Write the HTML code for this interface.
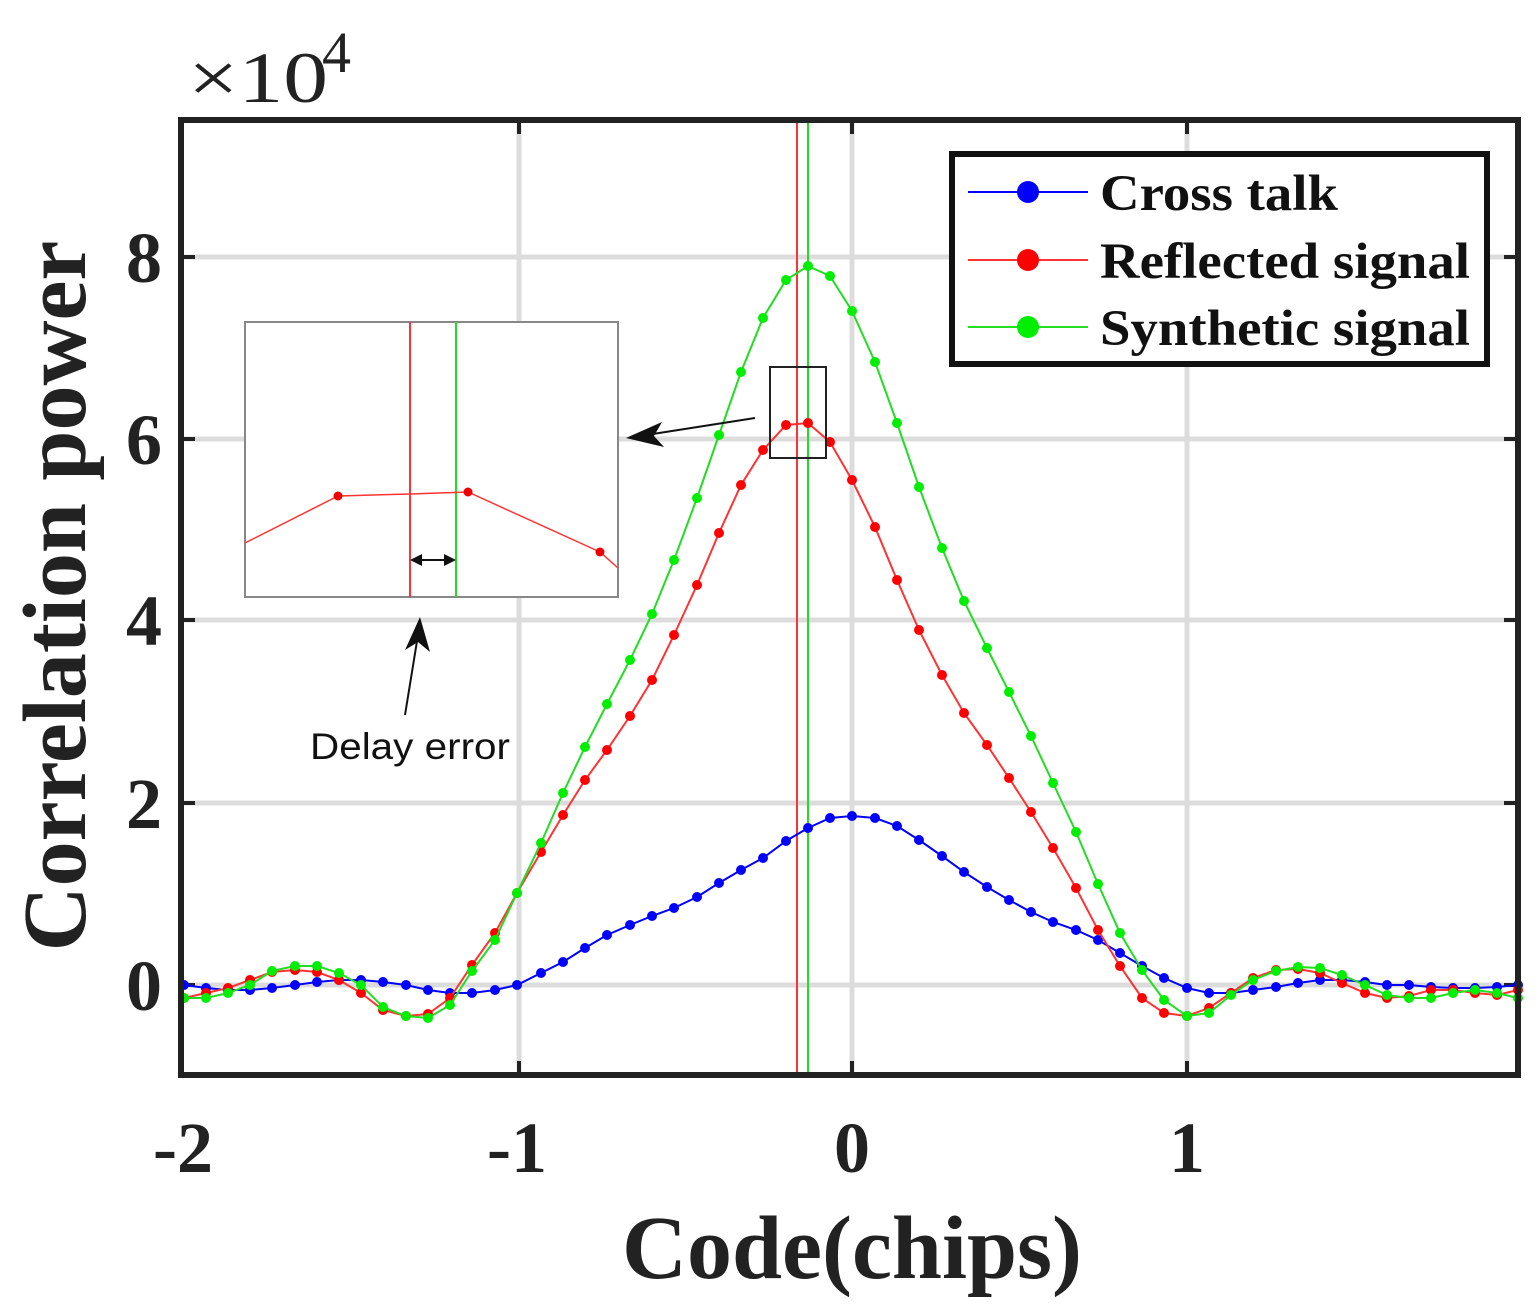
<!DOCTYPE html>
<html><head><meta charset="utf-8"><style>body{margin:0;background:#fff}svg{display:block}</style></head><body>
<svg width="1540" height="1307" xmlns="http://www.w3.org/2000/svg" font-family="Liberation Serif, serif">
<defs>
<marker id="mb" markerUnits="userSpaceOnUse" markerWidth="12" markerHeight="12" refX="6" refY="6"><circle cx="6" cy="6" r="5" fill="#00f"/></marker>
<marker id="mr" markerUnits="userSpaceOnUse" markerWidth="12" markerHeight="12" refX="6" refY="6"><circle cx="6" cy="6" r="5" fill="#f00"/></marker>
<marker id="mg" markerUnits="userSpaceOnUse" markerWidth="12" markerHeight="12" refX="6" refY="6"><circle cx="6" cy="6" r="5" fill="#0e0"/></marker>
</defs>
<rect width="1540" height="1307" fill="#fff"/>
<g stroke="#dcdcdc" stroke-width="5">
<line x1="519" y1="120" x2="519" y2="1075"/><line x1="852" y1="120" x2="852" y2="1075"/><line x1="1187" y1="120" x2="1187" y2="1075"/>
<line x1="181" y1="257" x2="1518" y2="257"/><line x1="181" y1="439" x2="1518" y2="439"/><line x1="181" y1="620" x2="1518" y2="620"/><line x1="181" y1="803" x2="1518" y2="803"/><line x1="181" y1="985" x2="1518" y2="985"/>
</g>
<g stroke="#222" stroke-width="4">
<line x1="519" y1="120" x2="519" y2="134"/><line x1="852" y1="120" x2="852" y2="134"/><line x1="1187" y1="120" x2="1187" y2="134"/>
<line x1="519" y1="1075" x2="519" y2="1061"/><line x1="852" y1="1075" x2="852" y2="1061"/><line x1="1187" y1="1075" x2="1187" y2="1061"/>
<line x1="181" y1="257" x2="195" y2="257"/><line x1="181" y1="439" x2="195" y2="439"/><line x1="181" y1="620" x2="195" y2="620"/><line x1="181" y1="803" x2="195" y2="803"/><line x1="181" y1="985" x2="195" y2="985"/>
<line x1="1518" y1="257" x2="1504" y2="257"/><line x1="1518" y1="439" x2="1504" y2="439"/><line x1="1518" y1="620" x2="1504" y2="620"/><line x1="1518" y1="803" x2="1504" y2="803"/><line x1="1518" y1="985" x2="1504" y2="985"/>
</g>
<line x1="797" y1="120" x2="797" y2="1075" stroke="#f33" stroke-width="2"/>
<line x1="808" y1="120" x2="808" y2="1075" stroke="#2d2" stroke-width="2"/>
<polyline fill="none" stroke="#00f" stroke-width="2" marker-start="url(#mb)" marker-mid="url(#mb)" marker-end="url(#mb)" points="184,985 206,988 228,990 250,990 272,988 295,985 317,982 339,980 361,980 383,982 406,985 428,990 450,993 472,993 495,990 517,985 541,973 563,962 585,948 607,935 630,925 652,916 674,908 697,897 719,883 741,870 763,858 786,841 808,828 830,818 852,816 875,818 897,826 919,840 942,856 964,872 987,887 1009,900 1031,912 1053,922 1076,930 1098,940 1120,953 1142,966 1164,978 1187,988 1209,993 1231,993 1253,990 1276,987 1298,983 1320,980 1342,980 1365,982 1387,985 1409,985 1431,987 1453,988 1475,988 1497,987 1518,985"/>
<polyline fill="none" stroke="#f33" stroke-width="2" marker-start="url(#mr)" marker-mid="url(#mr)" marker-end="url(#mr)" points="184,998 206,993 228,988 250,980 272,972 295,970 317,972 339,980 361,993 383,1010 406,1016 428,1014 450,998 472,965 495,933 517,893 541,852 563,815 585,780 607,750 630,716 652,680 674,635 697,585 719,533 741,485 763,450 786,425 808,423 830,442 852,480 875,527 897,580 919,630 942,675 964,713 987,745 1009,778 1031,812 1053,848 1076,888 1098,930 1120,966 1142,998 1164,1013 1187,1016 1209,1008 1231,993 1253,978 1276,970 1298,969 1320,973 1342,983 1365,993 1387,998 1409,996 1431,990 1453,990 1475,993 1497,995 1518,990"/>
<polyline fill="none" stroke="#2d2" stroke-width="2" marker-start="url(#mg)" marker-mid="url(#mg)" marker-end="url(#mg)" points="184,998 206,998 228,993 250,985 272,971 295,966 317,966 339,973 361,985 383,1007 406,1016 428,1018 450,1005 472,971 495,940 517,893 541,843 563,793 585,747 607,704 630,660 652,614 674,560 697,498 719,435 741,372 763,318 786,280 808,266 830,276 852,311 875,362 897,423 919,487 942,548 964,601 987,648 1009,692 1031,736 1053,783 1076,832 1098,884 1120,933 1142,970 1164,1000 1187,1016 1209,1013 1231,995 1253,980 1276,971 1298,967 1320,968 1342,975 1365,985 1387,995 1409,998 1431,998 1453,993 1475,990 1497,993 1518,998"/>
<rect x="181" y="120" width="1337" height="955" fill="none" stroke="#222" stroke-width="6"/>
<rect x="245" y="322" width="373" height="275" fill="#fff" stroke="#888" stroke-width="2"/>
<line x1="410" y1="322" x2="410" y2="597" stroke="#f33" stroke-width="2"/>
<line x1="456" y1="322" x2="456" y2="597" stroke="#2d2" stroke-width="2"/>
<polyline points="245,543 338,496 410,494 468,492 600,552 618,568" fill="none" stroke="#f33" stroke-width="1.5"/>
<g fill="#e00"><circle cx="338" cy="496" r="4.5"/><circle cx="468" cy="492" r="4.5"/><circle cx="600" cy="552" r="4.5"/></g>
<line x1="412" y1="560" x2="454" y2="560" stroke="#111" stroke-width="2"/>
<polygon points="410,560 422,554 422,566" fill="#111"/><polygon points="456,560 444,554 444,566" fill="#111"/>
<rect x="770" y="367" width="56" height="91" fill="none" stroke="#222" stroke-width="2"/>
<line x1="755" y1="418" x2="640" y2="436" stroke="#111" stroke-width="2"/>
<polygon points="626,438 662,422 654,436 664,447" fill="#111"/>
<line x1="405" y1="715" x2="418" y2="635" stroke="#111" stroke-width="2"/>
<polygon points="420,617 430,652 418,642 405,650" fill="#111"/>
<text x="310" y="759" font-family="Liberation Sans, sans-serif" font-size="37" fill="#111" textLength="200" lengthAdjust="spacingAndGlyphs">Delay error</text>
<rect x="952" y="154" width="535" height="210" fill="#fff" stroke="#111" stroke-width="6"/>
<line x1="968" y1="192" x2="1088" y2="192" stroke="#00f" stroke-width="2"/><circle cx="1028" cy="192" r="11" fill="#00f"/>
<line x1="968" y1="260" x2="1088" y2="260" stroke="#f33" stroke-width="2"/><circle cx="1028" cy="260" r="11" fill="#f00"/>
<line x1="968" y1="327" x2="1088" y2="327" stroke="#2d2" stroke-width="2"/><circle cx="1028" cy="327" r="11" fill="#0e0"/>
<g font-size="51" font-weight="bold" fill="#111">
<text x="1100" y="210" textLength="238" lengthAdjust="spacingAndGlyphs">Cross talk</text>
<text x="1100" y="278" textLength="370" lengthAdjust="spacingAndGlyphs">Reflected signal</text>
<text x="1100" y="345" textLength="370" lengthAdjust="spacingAndGlyphs">Synthetic signal</text>
</g>
<g font-size="72" font-weight="bold" fill="#222" text-anchor="middle">
<text x="183" y="1172">-2</text><text x="517" y="1172">-1</text><text x="852" y="1172">0</text><text x="1187" y="1172">1</text>
</g>
<g font-size="72" font-weight="bold" fill="#222" text-anchor="end">
<text x="162" y="282">8</text><text x="162" y="464">6</text><text x="162" y="645">4</text><text x="162" y="828">2</text><text x="162" y="1010">0</text>
</g>
<text x="188" y="102" font-size="72" fill="#222" textLength="140" lengthAdjust="spacingAndGlyphs">×10</text>
<text x="322" y="72" font-size="58" fill="#222">4</text>
<text x="852" y="1278" font-size="90" font-weight="bold" fill="#222" text-anchor="middle">Code(chips)</text>
<text transform="translate(85,596) rotate(-90)" font-size="90" font-weight="bold" fill="#222" text-anchor="middle">Correlation power</text>
</svg>
</body></html>
